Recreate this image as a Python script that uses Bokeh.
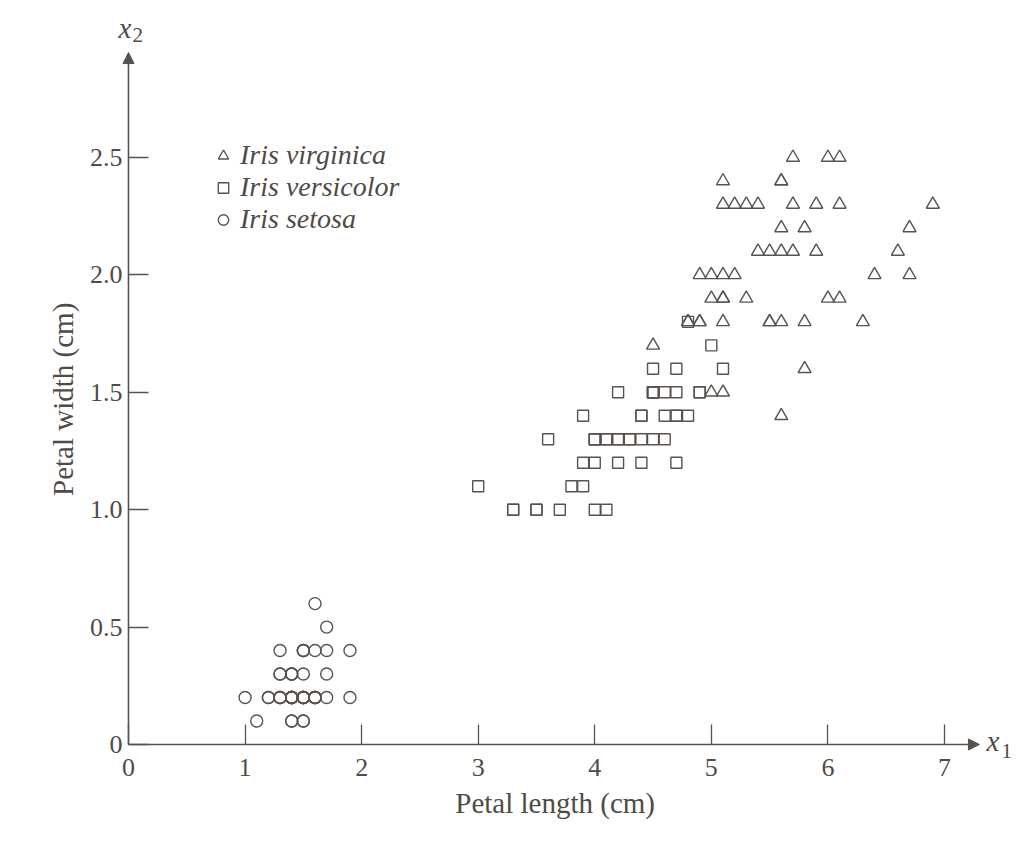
import math

from bokeh.plotting import figure
from bokeh.models import Range1d, FixedTicker, Legend, LegendItem, Label, Arrow, NormalHead
from bokeh.embed import file_html
from bokeh.resources import INLINE

# petal length / petal width (cm)
setosa_len = [1.4, 1.4, 1.3, 1.5, 1.4, 1.7, 1.4, 1.5, 1.4, 1.5, 1.5, 1.6, 1.4, 1.1, 1.2, 1.5, 1.3,
              1.4, 1.7, 1.5, 1.7, 1.5, 1.0, 1.7, 1.9, 1.6, 1.6, 1.5, 1.4, 1.6, 1.6, 1.5, 1.5, 1.4,
              1.5, 1.2, 1.3, 1.4, 1.3, 1.5, 1.3, 1.3, 1.3, 1.6, 1.9, 1.4, 1.6, 1.4, 1.5, 1.4]
setosa_wid = [0.2, 0.2, 0.2, 0.2, 0.2, 0.4, 0.3, 0.2, 0.2, 0.1, 0.2, 0.2, 0.1, 0.1, 0.2, 0.4, 0.4,
              0.3, 0.3, 0.3, 0.2, 0.4, 0.2, 0.5, 0.2, 0.2, 0.4, 0.2, 0.2, 0.2, 0.2, 0.4, 0.1, 0.2,
              0.2, 0.2, 0.2, 0.1, 0.2, 0.2, 0.3, 0.3, 0.2, 0.6, 0.4, 0.3, 0.2, 0.2, 0.2, 0.2]

versicolor_len = [4.7, 4.5, 4.9, 4.0, 4.6, 4.5, 4.7, 3.3, 4.6, 3.9, 3.5, 4.2, 4.0, 4.7, 3.6, 4.4, 4.5,
                  4.1, 4.5, 3.9, 4.8, 4.0, 4.9, 4.7, 4.3, 4.4, 4.8, 5.0, 4.5, 3.5, 3.8, 3.7, 3.9, 5.1,
                  4.5, 4.5, 4.7, 4.4, 4.1, 4.0, 4.4, 4.6, 4.0, 3.3, 4.2, 4.2, 4.2, 4.3, 3.0, 4.1]
versicolor_wid = [1.4, 1.5, 1.5, 1.3, 1.5, 1.3, 1.6, 1.0, 1.3, 1.4, 1.0, 1.5, 1.0, 1.4, 1.3, 1.4, 1.5,
                  1.0, 1.5, 1.1, 1.8, 1.3, 1.5, 1.2, 1.3, 1.4, 1.4, 1.7, 1.5, 1.0, 1.1, 1.0, 1.2, 1.6,
                  1.5, 1.6, 1.5, 1.3, 1.3, 1.3, 1.2, 1.4, 1.2, 1.0, 1.3, 1.2, 1.3, 1.3, 1.1, 1.3]

virginica_len = [6.0, 5.1, 5.9, 5.6, 5.8, 6.6, 4.5, 6.3, 5.8, 6.1, 5.1, 5.3, 5.5, 5.0, 5.1, 5.3, 5.5,
                 6.7, 6.9, 5.0, 5.7, 4.9, 6.7, 4.9, 5.7, 6.0, 4.8, 4.9, 5.6, 5.8, 6.1, 6.4, 5.6, 5.1,
                 5.6, 6.1, 5.6, 5.5, 4.8, 5.4, 5.6, 5.1, 5.1, 5.9, 5.7, 5.2, 5.0, 5.2, 5.4, 5.1]
virginica_wid = [2.5, 1.9, 2.1, 1.8, 2.2, 2.1, 1.7, 1.8, 1.8, 2.5, 2.0, 1.9, 2.1, 2.0, 2.4, 2.3, 1.8,
                 2.2, 2.3, 1.5, 2.3, 2.0, 2.0, 1.8, 2.1, 1.9, 1.8, 1.8, 2.1, 1.6, 1.9, 2.0, 2.2, 1.5,
                 1.4, 2.3, 2.4, 1.8, 1.8, 2.1, 2.4, 2.3, 1.9, 2.3, 2.5, 2.3, 1.9, 2.0, 2.3, 1.8]

species = ["Iris virginica", "Iris versicolor", "Iris setosa"]
x_ticks = [0, 1, 2, 3, 4, 5, 6, 7]
y_ticks = [0, 0.5, 1.0, 1.5, 2.0, 2.5]
y_tick_labels = {0: "0", 0.5: "0.5", 1: "1.0", 1.5: "1.5", 2: "2.0", 2.5: "2.5"}
x_title = "Petal length (cm)"
y_title = "Petal width (cm)"

ink = "#58534e"
txt = "#4f4b47"
serif = "Liberation Serif"

# axis arrow tips (data units)
x_tip = 7.30
y_tip = 2.947

# the frame fills the whole canvas; the axes are pinned at zero inside it
p = figure(width=1030, height=840,
           x_range=Range1d(-1.098, 7.738), y_range=Range1d(-0.4089, 3.1687),
           min_border_left=0, min_border_right=0, min_border_top=0, min_border_bottom=0,
           toolbar_location=None, output_backend="svg")
p.grid.visible = False
p.outline_line_color = None

for ax in (p.xaxis[0], p.yaxis[0]):
    ax.fixed_location = 0
    ax.axis_line_color = None
    ax.major_tick_line_color = ink
    ax.major_tick_line_width = 1.3
    ax.major_tick_in = 20
    ax.major_tick_out = 0
    ax.minor_tick_line_color = None
    ax.major_label_text_font = serif
    ax.major_label_text_font_size = "26px"
    ax.major_label_text_color = txt

p.xaxis.ticker = FixedTicker(ticks=x_ticks)
p.yaxis.ticker = FixedTicker(ticks=y_ticks)
p.yaxis.major_label_overrides = y_tick_labels
p.xaxis.major_label_standoff = 15
p.yaxis.major_label_standoff = 6

# axis titles, centred on the drawn axes rather than on the canvas
p.add_layout(Label(x=3.66, y=-0.251, text=x_title, text_font=serif, text_font_size="29px",
                   text_color=txt, text_align="center", text_baseline="middle"))
p.add_layout(Label(x=-0.566, y=1.47, text=y_title, text_font=serif, text_font_size="29px",
                   text_color=txt, text_align="center", text_baseline="middle",
                   angle=math.pi / 2))

p.add_layout(Arrow(end=NormalHead(size=11, fill_color=ink, line_color=ink),
                   x_start=0, y_start=0, x_end=x_tip, y_end=0,
                   line_color=ink, line_width=1.6))
p.add_layout(Arrow(end=NormalHead(size=11, fill_color=ink, line_color=ink),
                   x_start=0, y_start=0, x_end=0, y_end=y_tip,
                   line_color=ink, line_width=1.6))

# points
r_vir = p.scatter(virginica_len, virginica_wid, marker="triangle", size=13,
                  fill_color=None, line_color=ink, line_width=1.4)
r_ver = p.scatter(versicolor_len, versicolor_wid, marker="square", size=11,
                  fill_color=None, line_color=ink, line_width=1.4)
r_set = p.scatter(setosa_len, setosa_wid, marker="circle", size=12,
                  fill_color=None, line_color=ink, line_width=1.4)

legend = Legend(items=[LegendItem(label=species[0], renderers=[r_vir]),
                       LegendItem(label=species[1], renderers=[r_ver]),
                       LegendItem(label=species[2], renderers=[r_set])],
                location=(210, 605), border_line_color=None, background_fill_alpha=0,
                label_text_font=serif, label_text_font_style="italic",
                label_text_font_size="28px", label_text_color=txt,
                glyph_width=26, glyph_height=31, label_height=31,
                spacing=0, padding=0, margin=0, label_standoff=4)
p.add_layout(legend)

# axis names x1, x2
p.add_layout(Label(x=-0.085, y=3.05, text="x", text_font=serif, text_font_style="italic",
                   text_font_size="29px", text_color=txt, text_baseline="middle"))
p.add_layout(Label(x=0.035, y=3.02, text="2", text_font=serif,
                   text_font_size="21px", text_color=txt, text_baseline="middle"))
p.add_layout(Label(x=7.36, y=0.017, text="x", text_font=serif, text_font_style="italic",
                   text_font_size="29px", text_color=txt, text_baseline="middle"))
p.add_layout(Label(x=7.49, y=-0.026, text="1", text_font=serif,
                   text_font_size="21px", text_color=txt, text_baseline="middle"))

open("out.html", "w").write(file_html(p, INLINE))
